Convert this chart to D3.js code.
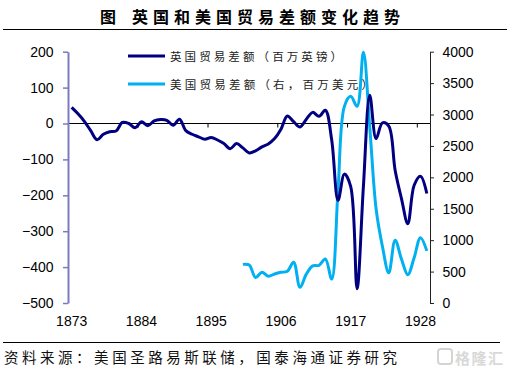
<!DOCTYPE html>
<html><head><meta charset="utf-8">
<script src="https://cdn.jsdelivr.net/npm/d3@7"></script>
<style>body{margin:0;background:#fff;} svg{display:block}</style>
</head><body><svg id="c" width="510" height="369"></svg>
<script>
// ---------- data ----------
const years = [1873,1874,1875,1876,1877,1878,1879,1880,1881,1882,1883,1884,1885,1886,1887,1888,1889,1890,
  1891,1892,1893,1894,1895,1896,1897,1898,1899,1900,1901,1902,1903,1904,1905,1906,1907,1908,1909,1910,
  1911,1912,1913,1914,1915,1916,1917,1918,1919,1920,1921,1922,1923,1924,1925,1926,1927,1928,1929];
// UK trade balance, million GBP (left axis)
const ukBalance = [45,27,6,-20,-45,-30,-23,-21,3,0,-12,5,-6,7,11,9,-5,12,
  -20,-30,-37,-44,-39,-46,-56,-70,-56,-68,-82,-76,-65,-57,-42,-16,21,5,-10,12,
  31,20,37,-46,-214,-141,-176,-460,-175,79,-42,2,-7,-130,-209,-279,-172,-147,-195];
// US trade balance, million USD (right axis), 1900-1929
const usYears = [1900,1901,1902,1903,1904,1905,1906,1907,1908,1909,1910,1911,1912,1913,1914,
  1915,1916,1917,1918,1919,1920,1921,1922,1923,1924,1925,1926,1927,1928,1929];
const usBalance = [615,605,405,490,426,462,488,505,650,250,460,590,600,700,380,
  1800,3130,3290,3130,3990,2800,1500,900,480,1000,700,450,720,1040,830];
const xTickYears = [1873,1884,1895,1906,1917,1928];
const leftTicks = [200,100,0,-100,-200,-300,-400,-500];
const rightTicks = [4000,3500,3000,2500,2000,1500,1000,500,0];
const seriesNames = ["英国贸易差额（百万英镑）","美国贸易差额（右，百万美元）"];
const titleText = "英国和美国贸易差额变化趋势";
const sourceText = "资料来源：美国圣路易斯联储，国泰海通证券研究";

// ---------- layout ----------
const svg = d3.select("#c");
const L = 68.5, R = 430, T = 51.7, B = 303;
const navy = "#000080", sky = "#00B0F0";
const numFont = "'Liberation Sans', Arial, sans-serif";
const cjk = "'Noto Sans CJK SC', sans-serif";

const x = d3.scaleBand().domain(years).range([L, R]).padding(0);
const bw = x.bandwidth();
const cx = d => x(d) + bw / 2;
const yL = d3.scaleLinear().domain([-500, 200]).range([B, T]);
const yR = d3.scaleLinear().domain([0, 4000]).range([B, T]);

// title
svg.append("text").attr("x", 100).attr("y", 15.5).attr("dominant-baseline", "central")
  .attr("font-family", cjk).attr("font-weight", 700).attr("font-size", 16).text("图");
svg.append("text").attr("x", 132).attr("y", 15.5).attr("dominant-baseline", "central")
  .attr("font-family", cjk).attr("font-weight", 700).attr("font-size", 16)
  .attr("textLength", 268).attr("lengthAdjust", "spacing").text(titleText);
svg.append("line").attr("x1", 3).attr("x2", 507).attr("y1", 29.5).attr("y2", 29.5)
  .attr("stroke", "#000").attr("stroke-width", 1);

// zero line + category ticks
const gz = svg.append("g");
gz.append("line").attr("x1", L).attr("x2", R).attr("y1", yL(0)).attr("y2", yL(0))
  .attr("stroke", "#000").attr("stroke-width", 1);
gz.selectAll("line.t").data(xTickYears).join("line").attr("class", "t")
  .attr("x1", d => x(d)).attr("x2", d => x(d)).attr("y1", yL(0)).attr("y2", yL(0) + 4)
  .attr("stroke", "#000").attr("stroke-width", 1);

// x labels
const gx = svg.append("g").attr("transform", "translate(0,305)")
  .call(d3.axisBottom(x).tickValues(xTickYears).tickSize(0).tickPadding(10.8));
gx.select(".domain").remove();
gx.selectAll("text").attr("font-family", numFont).attr("font-size", 14).attr("fill", "#000");

// left axis
const gl = svg.append("g").attr("transform", `translate(${L - 0.5},0)`)
  .call(d3.axisLeft(yL).tickValues(leftTicks).tickSize(5).tickPadding(9.5).tickSizeOuter(0));
gl.select(".domain").attr("stroke", "#7B7BC2").attr("stroke-width", 2);
gl.selectAll(".tick line").attr("stroke", "#7B7BC2").attr("stroke-width", 1.5);
gl.selectAll("text").attr("font-family", numFont).attr("font-size", 14).attr("fill", "#000");

// right axis
const gr = svg.append("g").attr("transform", `translate(${R},0)`)
  .call(d3.axisRight(yR).tickValues(rightTicks).tickFormat(d3.format("d"))
    .tickSize(4).tickPadding(8.5).tickSizeOuter(0));
gr.select(".domain").attr("stroke", "#222").attr("stroke-width", 1);
gr.selectAll(".tick line").attr("stroke", "#222");
gr.selectAll("text").attr("font-family", numFont).attr("font-size", 14).attr("fill", "#000");

// clip
svg.append("clipPath").attr("id", "clip").append("rect")
  .attr("x", L).attr("y", 35).attr("width", R - L).attr("height", 280);
const gp = svg.append("g").attr("clip-path", "url(#clip)");

const curve = d3.curveCatmullRom.alpha(0.5);
const ukLine = d3.line().x((d, i) => cx(years[i])).y(d => yL(d)).curve(curve);
const usLine = d3.line().x((d, i) => cx(usYears[i])).y(d => yR(d)).curve(curve);

gp.append("path").datum(usBalance).attr("d", usLine).attr("fill", "none")
  .attr("stroke", sky).attr("stroke-width", 3).attr("stroke-linejoin", "round");
gp.append("path").datum(ukBalance).attr("d", ukLine).attr("fill", "none")
  .attr("stroke", navy).attr("stroke-width", 3).attr("stroke-linejoin", "round");

// legend
const leg = svg.append("g");
const legRows = [{name: seriesNames[0], color: navy, y: 56, len: 172},
                 {name: seriesNames[1], color: sky, y: 84, len: 203}];
legRows.forEach(r => {
  leg.append("line").attr("x1", 128).attr("x2", 165).attr("y1", r.y).attr("y2", r.y)
    .attr("stroke", r.color).attr("stroke-width", 3);
  leg.append("text").attr("x", 170).attr("y", r.y).attr("dominant-baseline", "central")
    .attr("font-family", cjk).attr("font-size", 11.5).attr("fill", "#222")
    .attr("textLength", r.len).attr("lengthAdjust", "spacing").text(r.name);
});

// footer
svg.append("line").attr("x1", 3).attr("x2", 500).attr("y1", 342.5).attr("y2", 342.5)
  .attr("stroke", "#000").attr("stroke-width", 1);
svg.append("text").attr("x", 4).attr("y", 356.5).attr("dominant-baseline", "central")
  .attr("font-family", cjk).attr("font-size", 14.5).attr("fill", "#111")
  .attr("textLength", 393).attr("lengthAdjust", "spacing").text(sourceText);

// watermark
svg.append("rect").attr("x", 438).attr("y", 349).attr("width", 14).attr("height", 15).attr("rx", 3)
  .attr("fill", "none").attr("stroke", "#d4d4d4").attr("stroke-width", 2);
svg.append("text").attr("x", 455).attr("y", 357).attr("dominant-baseline", "central")
  .attr("font-family", cjk).attr("font-weight", 700).attr("font-size", 15).attr("fill", "#d8d8d8")
  .attr("textLength", 48).attr("lengthAdjust", "spacing").text("格隆汇");
</script></body></html>
